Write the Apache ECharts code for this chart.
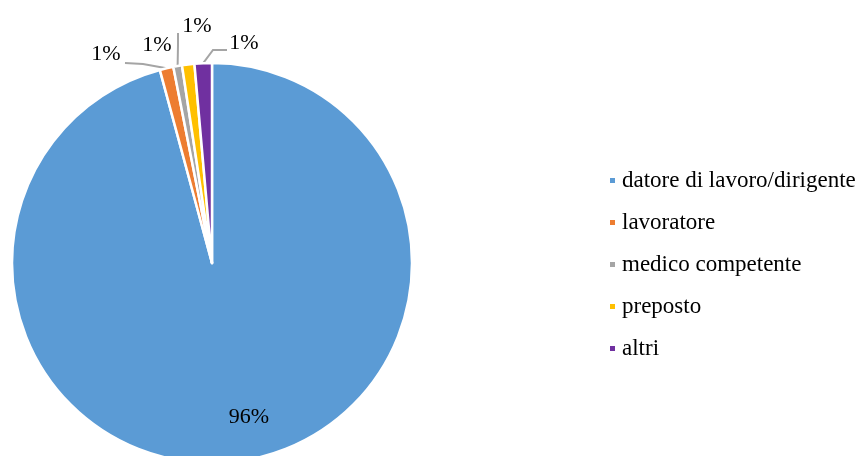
<!DOCTYPE html>
<html>
<head>
<meta charset="utf-8">
<script src="https://cdn.jsdelivr.net/npm/echarts@6/dist/echarts.min.js"></script>
<style>html,body{margin:0;padding:0;background:#fff;}#c{width:865px;height:456px;}</style>
</head>
<body>
<div id="c"></div>
<script>
const categories = ['datore di lavoro/dirigente', 'lavoratore', 'medico competente', 'preposto', 'altri'];
const values = [95.8, 1.1, 0.7, 1.0, 1.4];
const colors = ['#5B9BD5', '#ED7D31', '#A5A5A5', '#FFC000', '#7030A0'];

// label placement (layout only)
const labelPos = [
  {x: 249, y: 417, line: null},
  {x: 106, y: 54, line: [[143, 64], [125, 63]]},
  {x: 197, y: 26, line: [[178, 45], [178, 33]]},
  {x: 157, y: 45, line: null},
  {x: 244, y: 43, line: [[213, 50], [227, 50]]}
];

const chart = echarts.init(document.getElementById('c'), null, {renderer: 'canvas'});
const font = 'Liberation Serif, Times New Roman, serif';
chart.setOption({
  animation: false,
  legend: {
    orient: 'vertical',
    left: 603,
    top: 164,
    itemWidth: 7,
    itemHeight: 7,
    itemGap: 19,
    icon: 'rect',
    textStyle: {fontFamily: font, fontSize: 23, color: '#000', lineHeight: 23, padding: [0, 0, 0, 1]},
    data: categories
  },
  series: [{
    type: 'pie',
    center: [212, 263],
    radius: [0, 200],
    startAngle: 90,
    clockwise: true,
    avoidLabelOverlap: false,
    itemStyle: {borderColor: '#fff', borderWidth: 2.5},
    label: {
      show: true,
      position: 'outside',
      fontFamily: font,
      fontSize: 22,
      color: '#000',
      formatter: p => Math.round(p.percent) + '%'
    },
    labelLine: {show: true, length: 10, length2: 10, lineStyle: {color: '#A5A5A5', width: 2}},
    labelLayout: function (params) {
      const lp = labelPos[params.dataIndex];
      const res = {x: lp.x, y: lp.y, align: 'center', verticalAlign: 'middle'};
      if (lp.line && params.labelLinePoints) {
        const p0 = params.labelLinePoints[0];
        res.labelLinePoints = [[p0[0], p0[1]], lp.line[0], lp.line[1]];
      }
      return res;
    },
    data: categories.map((name, i) => ({
      name: name,
      value: values[i],
      itemStyle: {color: colors[i]},
      label: i === 0 ? {position: 'inside'} : undefined,
      labelLine: (i === 0 || i === 3) ? {show: false} : undefined
    }))
  }]
});
</script>
</body>
</html>
